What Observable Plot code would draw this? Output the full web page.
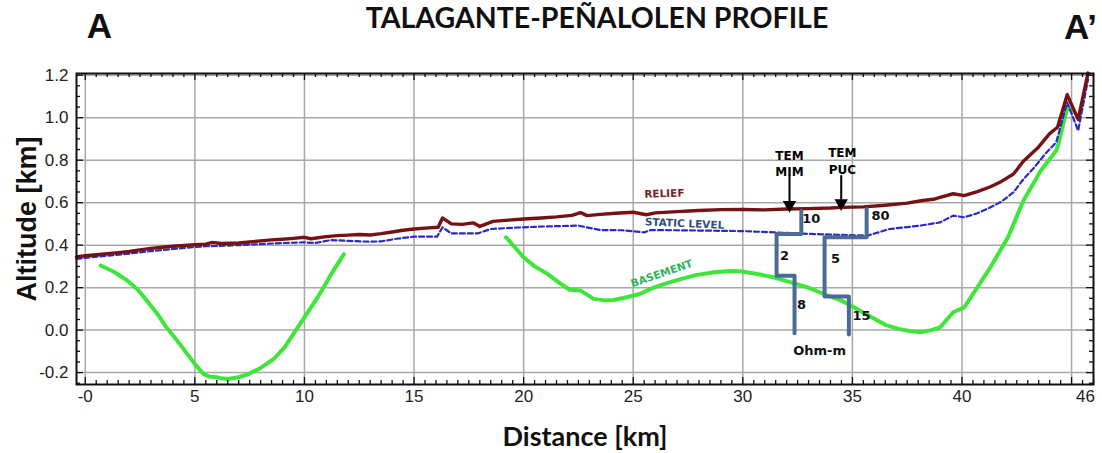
<!DOCTYPE html>
<html>
<head>
<meta charset="utf-8">
<script src="https://cdn.jsdelivr.net/npm/d3@7"></script>
<script src="https://cdn.jsdelivr.net/npm/@observablehq/plot@0.6"></script>
<style>
  html, body { margin: 0; padding: 0; background: #fff; }
</style>
</head>
<body>
<div id="chart"></div>
<script>
// Talagante–Peñalolén cross-section: ground relief, static water level,
// basement surface and two TEM resistivity soundings (distance in km, altitude in km).

const reliefKm = [-0.4, 0, 0.5, 1, 1.5, 2, 2.5, 3, 3.5, 4, 4.5, 5, 5.5, 5.8, 6.2, 7, 7.5, 8, 8.5, 9, 9.5, 10, 10.3, 11, 11.5, 12, 12.5, 13, 13.5, 14, 14.5, 15, 15.5, 16.1, 16.3, 16.7, 17.2, 17.7, 18, 18.6, 19.3, 20, 20.8, 21.5, 22.2, 22.6, 22.9, 23.5, 24.2, 25, 25.6, 26, 27, 28, 29, 30, 31, 32, 33, 34, 34.5, 35.5, 36.5, 37.5, 38.2, 38.7, 39, 39.6, 40.1, 40.7, 41.3, 41.8, 42.35, 42.8, 43.45, 44, 44.36, 44.8, 45.3, 45.75];
const reliefAlt = [0.345, 0.35, 0.355, 0.36, 0.365, 0.37, 0.378, 0.385, 0.39, 0.395, 0.398, 0.402, 0.405, 0.413, 0.408, 0.41, 0.415, 0.42, 0.425, 0.428, 0.432, 0.437, 0.43, 0.44, 0.445, 0.447, 0.45, 0.448, 0.454, 0.462, 0.47, 0.476, 0.48, 0.484, 0.528, 0.5, 0.498, 0.505, 0.488, 0.512, 0.518, 0.523, 0.528, 0.533, 0.54, 0.553, 0.539, 0.545, 0.55, 0.555, 0.543, 0.552, 0.558, 0.563, 0.567, 0.568, 0.566, 0.57, 0.572, 0.575, 0.578, 0.58, 0.588, 0.598, 0.61, 0.616, 0.625, 0.642, 0.633, 0.652, 0.675, 0.7, 0.735, 0.795, 0.857, 0.925, 0.955, 1.108, 0.992, 1.21];

const staticKm = [-0.4, 0, 1, 2, 3, 4, 4.9, 5.5, 6, 7, 8, 9, 9.95, 10.5, 11.2, 12, 13, 13.5, 14.2, 15, 16.05, 16.3, 16.7, 17.9, 18.5, 19.2, 20, 21, 22.5, 23.5, 24.5, 25.5, 25.8, 27, 28.5, 30, 31.5, 33, 34.5, 35.7, 36.7, 37.5, 38.1, 39, 39.6, 40.1, 40.7, 41.3, 41.8, 42.35, 42.8, 43.3, 43.8, 44.3, 44.8, 45.3, 45.75];
const staticAlt = [0.335, 0.34, 0.35, 0.36, 0.372, 0.382, 0.39, 0.395, 0.396, 0.4, 0.405, 0.41, 0.413, 0.41, 0.424, 0.42, 0.416, 0.418, 0.43, 0.44, 0.44, 0.484, 0.455, 0.455, 0.476, 0.48, 0.484, 0.488, 0.492, 0.471, 0.47, 0.46, 0.471, 0.47, 0.468, 0.466, 0.46, 0.453, 0.448, 0.445, 0.476, 0.485, 0.492, 0.507, 0.539, 0.531, 0.55, 0.578, 0.605, 0.649, 0.71, 0.766, 0.83, 0.884, 1.072, 0.939, 1.18];

// Basement is mapped in two separate stretches
const basementWestKm = [0.7, 1.3, 1.9, 2.4, 2.8, 3.3, 3.7, 4.2, 4.65, 5.0, 5.4, 5.7, 6.0, 6.2, 6.5, 7.0, 7.4, 8.0, 8.6, 9.1, 9.5, 10.0, 10.6, 11.2, 11.8];
const basementWestAlt = [0.304, 0.275, 0.235, 0.19, 0.14, 0.075, 0.013, -0.05, -0.112, -0.16, -0.207, -0.22, -0.222, -0.227, -0.23, -0.222, -0.209, -0.178, -0.136, -0.08, -0.018, 0.06, 0.154, 0.26, 0.358];
const basementEastKm = [19.2, 19.6, 20.0, 20.5, 21.1, 21.6, 22.1, 22.6, 23.2, 23.7, 24.1, 24.7, 25.3, 25.9, 26.5, 27.2, 27.9, 28.7, 29.4, 29.9, 30.6, 31.4, 32.2, 32.95, 33.7, 34.5, 35.2, 36.0, 36.5, 37.1, 37.6, 38.1, 38.6, 39.0, 39.6, 40.1, 40.7, 41.3, 42.1, 42.8, 43.6, 44.3, 44.4, 44.8, 45.05];
const basementEastAlt = [0.437, 0.39, 0.343, 0.3, 0.264, 0.225, 0.19, 0.186, 0.147, 0.14, 0.142, 0.155, 0.17, 0.199, 0.22, 0.241, 0.26, 0.272, 0.278, 0.277, 0.265, 0.249, 0.225, 0.201, 0.17, 0.139, 0.1, 0.053, 0.025, 0.006, -0.004, -0.01, 0.0, 0.013, 0.084, 0.107, 0.201, 0.296, 0.437, 0.609, 0.751, 0.845, 0.876, 1.048, 1.03];

// TEM resistivity models drawn as stepped columns
const temMimKm = [32.67, 32.67, 31.54, 31.54, 32.36, 32.36];
const temMimAlt = [0.562, 0.453, 0.453, 0.256, 0.256, -0.015];
const temPucKm = [35.65, 35.65, 33.73, 33.73, 34.84, 34.84];
const temPucAlt = [0.57, 0.437, 0.437, 0.158, 0.158, -0.021];

// Resistivity values (Ohm-m) written beside each layer
const ohmLabels = ["10", "2", "8", "80", "5", "15", "Ohm-m"];
const ohmKm = [33.12, 31.9, 32.68, 36.28, 34.23, 35.42, 33.5];
const ohmAlt = [0.523, 0.35, 0.12, 0.539, 0.335, 0.068, -0.096];

// Sounding names and arrows pointing at the surface
const temNames = ["TEM", "MIM", "TEM", "PUC"];
const temNameKm = [32.13, 32.13, 34.54, 34.54];
const temNameAlt = [0.821, 0.743, 0.832, 0.751];
const arrowKm = [32.13, 34.49];
const arrowTopAlt = [0.727, 0.727];
const arrowTipAlt = [0.554, 0.562];

// Curve names
const curveNames = ["RELIEF", "STATIC LEVEL", "BASEMENT"];
const curveNameKm = [26.42, 27.34, 26.3];
const curveNameAlt = [0.642, 0.501, 0.266];
const curveNameColor = ["#7a1e1e", "#2f4f78", "#2db35a"];
const curveNameRotate = [-2, 2.5, -19];

// Axis ticks
const xTickVals = [0, 5, 10, 15, 20, 25, 30, 35, 40];
const xTickLabels = ["-0", "5", "10", "15", "20", "25", "30", "35", "40"];
const xEndTick = [46];
const xEndLabel = ["46"];
const xGrid = [0, 5, 10, 15, 20, 25, 30, 35, 40, 45];
const yTickVals = [-0.2, 0, 0.2, 0.4, 0.6, 0.8, 1.0, 1.2];
const yTickLabels = ["-0.2", "0.0", "0.2", "0.4", "0.6", "0.8", "1.0", "1.2"];

// Layout
const width = 1102, height = 453;
const margin = {top: 73, right: 9, bottom: 69, left: 76};
const xDomain = [-0.4, 46];
const yDomain = [-0.256, 1.208];
const pxPerX = (width - margin.left - margin.right) / (xDomain[1] - xDomain[0]);
const pxPerY = (height - margin.top - margin.bottom) / (yDomain[1] - yDomain[0]);

const zip = (xs, ys) => xs.map((x, i) => ({x, y: ys[i]}));

// Inward frame ticks (minor every 0.5 km / 0.05 km, major at grid lines)
const xMinor = d3.range(0, 46.001, 0.5).filter(v => Math.abs(v % 5) > 1e-6);
const xMajor = xGrid;
const yMinor = d3.range(-25, 121, 5).map(v => v / 100).filter(v => Math.abs(Math.round(v * 100) % 20) !== 0);
const yMajor = yTickVals;
const minorLen = 4, majorLen = 7;

const tipOffset = 7.5 / pxPerY; // triangle centre sits above its tip

const sans = "'Liberation Sans', Arial, sans-serif";
const titleFont = "Lato, 'Open Sans', sans-serif";
const noteFont = "'DejaVu Sans', Verdana, sans-serif";

const frameTicks = (vals, len, axis) => {
  if (axis === "x") {
    return [
      Plot.ruleX(vals, {x: d => d, y1: yDomain[0], y2: yDomain[0] + len / pxPerY, stroke: "#111", strokeWidth: 1.3}),
      Plot.ruleX(vals, {x: d => d, y1: yDomain[1], y2: yDomain[1] - len / pxPerY, stroke: "#111", strokeWidth: 1.3})
    ];
  }
  return [
    Plot.ruleY(vals, {y: d => d, x1: xDomain[0], x2: xDomain[0] + len / pxPerX, stroke: "#111", strokeWidth: 1.3}),
    Plot.ruleY(vals, {y: d => d, x1: xDomain[1], x2: xDomain[1] - len / pxPerX, stroke: "#111", strokeWidth: 1.3})
  ];
};

const centred = {textAnchor: "middle", lineAnchor: "middle"};

const chart = Plot.plot({
  width, height,
  marginTop: margin.top, marginRight: margin.right, marginBottom: margin.bottom, marginLeft: margin.left,
  style: {fontFamily: sans, color: "#222", background: "#fff", overflow: "visible"},
  x: {domain: xDomain, label: null},
  y: {domain: yDomain, label: null},
  marks: [
    // grid
    Plot.ruleX(xGrid, {x: d => d, stroke: "#a8a8a8", strokeWidth: 1.5}),
    Plot.ruleY(yTickVals, {y: d => d, stroke: "#a8a8a8", strokeWidth: 1.5}),

    // axis labels
    Plot.axisX({ticks: xTickVals, tickSize: 0, tickPadding: 5, fontSize: 17, label: null,
      tickFormat: d => xTickLabels[xTickVals.indexOf(d)]}),
    Plot.axisX({ticks: xEndTick, tickSize: 0, tickPadding: 5, fontSize: 17, label: null, dx: -8,
      tickFormat: d => xEndLabel[xEndTick.indexOf(d)]}),
    Plot.axisY({ticks: yTickVals, tickSize: 0, tickPadding: 8, fontSize: 17, label: null,
      tickFormat: d => yTickLabels[yTickVals.indexOf(d)]}),

    // basement
    Plot.line(zip(basementWestKm, basementWestAlt), {x: "x", y: "y", stroke: "#3ee63a", strokeWidth: 4, strokeLinecap: "round"}),
    Plot.line(zip(basementEastKm, basementEastAlt), {x: "x", y: "y", stroke: "#3ee63a", strokeWidth: 4, strokeLinecap: "round"}),

    // static level
    Plot.line(zip(staticKm, staticAlt), {x: "x", y: "y", stroke: "#2a2ac4", strokeWidth: 2.2, strokeDasharray: "5,3"}),

    // relief
    Plot.line(zip(reliefKm, reliefAlt), {x: "x", y: "y", stroke: "#761214", strokeWidth: 3.4}),

    // TEM resistivity columns
    Plot.line(zip(temMimKm, temMimAlt), {x: "x", y: "y", stroke: "#4a6b95", strokeWidth: 4}),
    Plot.line(zip(temPucKm, temPucAlt), {x: "x", y: "y", stroke: "#4a6b95", strokeWidth: 4}),

    // arrows
    Plot.ruleX(arrowKm.map((x, i) => ({x, y1: arrowTopAlt[i], y2: arrowTipAlt[i] + tipOffset})),
      {x: "x", y1: "y1", y2: "y2", stroke: "#000", strokeWidth: 2}),
    Plot.dot(arrowKm.map((x, i) => ({x, y: arrowTipAlt[i] + tipOffset})),
      {x: "x", y: "y", symbol: "triangle", r: 5, rotate: 180, fill: "#000", stroke: null}),

    // sounding names and resistivities
    Plot.text(temNames.map((t, i) => ({t, x: temNameKm[i], y: temNameAlt[i]})),
      {x: "x", y: "y", text: "t", fontFamily: noteFont, fontWeight: "bold", fontSize: 12, fill: "#000"}),
    Plot.text(ohmLabels.map((t, i) => ({t, x: ohmKm[i], y: ohmAlt[i]})),
      {x: "x", y: "y", text: "t", fontFamily: noteFont, fontWeight: "bold", fontSize: 13, fill: "#111"}),

    // curve names
    Plot.text(curveNames.map((t, i) => ({t, x: curveNameKm[i], y: curveNameAlt[i], c: curveNameColor[i], r: curveNameRotate[i]})),
      {x: "x", y: "y", text: "t", fill: "c", rotate: "r", fontFamily: noteFont, fontWeight: "bold", fontSize: 10.5}),

    // frame and inward ticks
    ...frameTicks(xMinor, minorLen, "x"),
    ...frameTicks(xMajor, majorLen, "x"),
    ...frameTicks(yMinor, minorLen, "y"),
    ...frameTicks(yMajor, majorLen, "y"),
    Plot.frame({stroke: "#111", strokeWidth: 2}),

    // axis titles
    Plot.text(["Distance [km]"], {...centred, frameAnchor: "bottom", dy: 53, fontSize: 27, fontWeight: "bold", fontFamily: titleFont, fill: "#111"}),
    Plot.text(["Altitude [km]"], {...centred, frameAnchor: "left", dx: -49, dy: -10, rotate: -90, fontSize: 27, fontWeight: "bold", fontFamily: sans, fill: "#111"}),

    // section title and end markers
    Plot.text(["TALAGANTE-PEÑALOLEN PROFILE"], {...centred, frameAnchor: "top", dx: 12, dy: -55, fontSize: 28.5, fontWeight: "bold", fontFamily: titleFont, fill: "#111"}),
    Plot.text(["A"], {...centred, frameAnchor: "top-left", dx: 23, dy: -47, fontSize: 35, fontWeight: "bold", fontFamily: sans, fill: "#111"}),
    Plot.text(["A’"], {...centred, frameAnchor: "top-right", dx: -13, dy: -46, fontSize: 35, fontWeight: "bold", fontFamily: sans, fill: "#111"})
  ]
});

document.getElementById("chart").appendChild(chart);
</script>
</body>
</html>
